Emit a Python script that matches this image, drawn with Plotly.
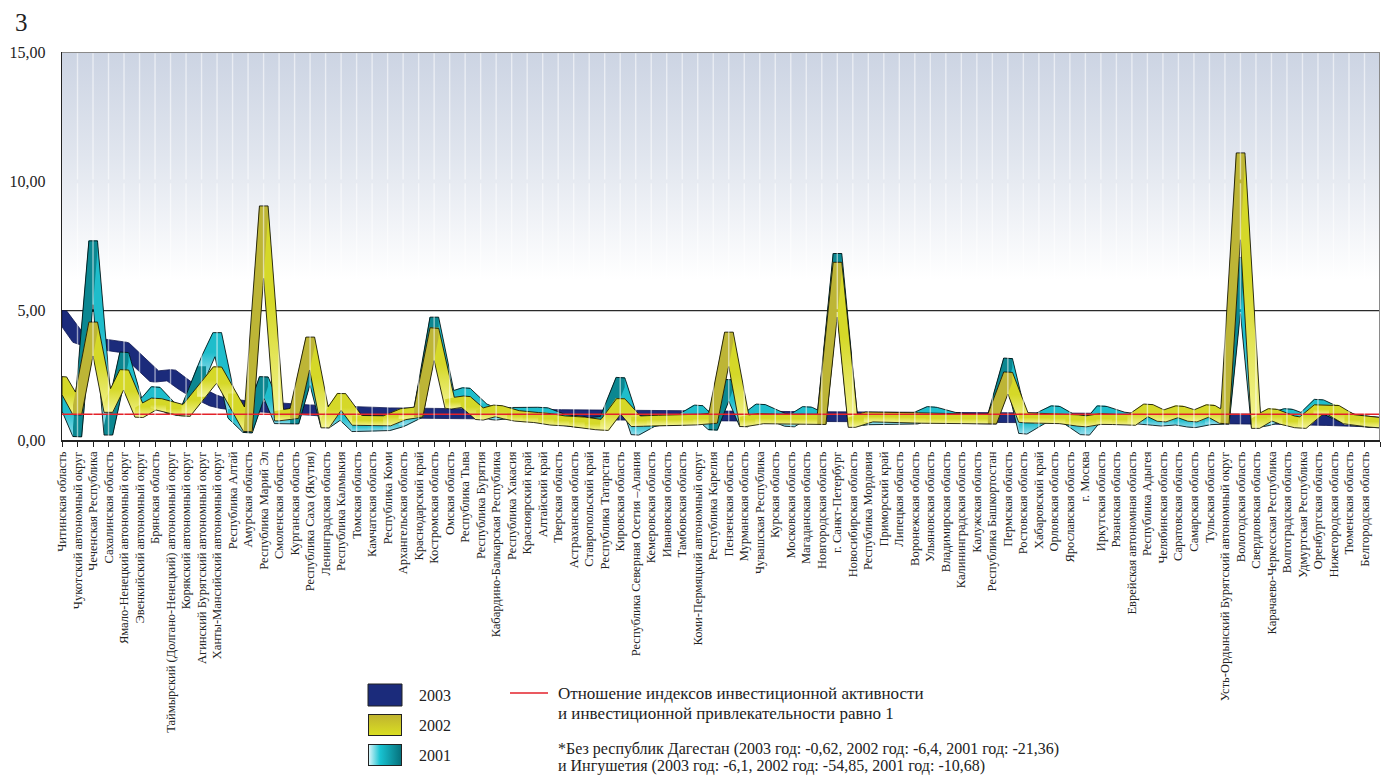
import base64
import numpy as np
import plotly.graph_objects as go

# ---------------- data ----------------
regions = [
    "Читинская область", "Чукотский автономный округ", "Чеченская Республика",
    "Сахалинская область", "Ямало-Ненецкий автономный округ", "Эвенкийский автономный округ",
    "Брянская область", "Таймырский (Долгано-Ненецкий) автономный округ",
    "Корякский автономный округ", "Агинский Бурятский автономный округ",
    "Ханты-Мансийский автономный округ", "Республика Алтай", "Амурская область",
    "Республика Марий Эл", "Смоленская область", "Курганская область",
    "Республика Саха (Якутия)", "Ленинградская область", "Республика Калмыкия",
    "Томская область", "Камчатская область", "Республика Коми", "Архангельская область",
    "Краснодарский край", "Костромская область", "Омская область", "Республика Тыва",
    "Республика Бурятия", "Кабардино-Балкарская Республика", "Республика Хакасия",
    "Красноярский край", "Алтайский край", "Тверская область", "Астраханская область",
    "Ставропольский край", "Республика Татарстан", "Кировская область",
    "Республика Северная Осетия –Алания", "Кемеровская область", "Ивановская область",
    "Тамбовская область", "Коми-Пермяцкий автономный округ", "Республика Карелия",
    "Пензенская область", "Мурманская область", "Чувашская Республика", "Курская область",
    "Московская область", "Магаданская область", "Новгородская область",
    "г. Санкт-Петербург", "Новосибирская область", "Республика Мордовия",
    "Приморский край", "Липецкая область", "Воронежская область", "Ульяновская область",
    "Владимирская область", "Калининградская область", "Калужская область",
    "Республика Башкортостан", "Пермская область", "Ростовская область",
    "Хабаровский край", "Орловская область", "Ярославская область", "г. Москва",
    "Иркутская область", "Рязанская область", "Еврейская автономная область",
    "Республика Адыгея", "Челябинская область", "Саратовская область",
    "Самарская область", "Тульская область", "Усть-Ордынский Бурятский автономный округ",
    "Вологодская область", "Свердловская область", "Карачаево-Черкесская Республика",
    "Волгоградская область", "Удмуртская Республика", "Оренбургская область",
    "Нижегородская область", "Тюменская область", "Белгородская область",
    "Псковская область",
]

v2003 = [
    5.00, 4.15, 3.95, 3.84, 3.77, 3.20, 2.62, 2.72, 2.25, 1.92,
    1.65, 1.55, 1.50, 1.45, 1.41, 1.37, 1.35, 1.31, 1.28, 1.26,
    1.25, 1.24, 1.23, 1.22, 1.22, 1.21, 1.20, 1.20, 1.19, 1.19,
    1.18, 1.18, 1.17, 1.17, 1.16, 1.16, 1.15, 1.15, 1.14, 1.14,
    1.13, 1.13, 1.12, 1.12, 1.11, 1.11, 1.10, 1.10, 1.10, 1.09,
    1.09, 1.09, 1.08, 1.08, 1.08, 1.07, 1.07, 1.07, 1.06, 1.06,
    1.06, 1.05, 1.05, 1.05, 1.04, 1.04, 1.04, 1.03, 1.03, 1.03,
    1.02, 1.02, 1.02, 1.01, 1.01, 1.01, 1.00, 1.00, 0.99, 0.99,
    0.98, 0.96, 0.94, 0.92, 0.90, 0.87,
]

v2002 = [
    2.45, 1.35, 4.56, 1.45, 2.72, 1.25, 1.62, 1.45, 1.30, 2.05,
    2.83, 1.80, 0.70, 9.05, 1.12, 1.22, 3.98, 0.85, 1.80, 0.95,
    0.92, 0.93, 1.20, 1.27, 4.34, 1.58, 1.70, 1.15, 1.35, 1.15,
    1.07, 1.05, 0.93, 0.92, 0.84, 0.75, 1.60, 0.90, 0.95, 0.96,
    0.95, 0.97, 1.03, 4.17, 0.90, 1.02, 1.00, 0.98, 1.00, 0.98,
    6.87, 0.87, 1.08, 1.08, 1.07, 1.05, 1.02, 1.00, 1.00, 1.00,
    1.00, 2.63, 1.05, 1.03, 1.03, 1.00, 0.89, 1.02, 0.98, 0.95,
    1.39, 1.08, 1.32, 1.08, 1.36, 1.00, 11.10, 0.83, 1.21, 0.95,
    0.83, 1.36, 1.36, 0.98, 0.92, 0.85,
]

v2001 = [
    1.90, 0.50, 7.70, 0.57, 3.40, 1.30, 2.06, 1.40, 1.30, 2.85,
    4.15, 1.20, 0.65, 2.45, 1.00, 1.00, 3.15, 0.85, 1.30, 0.70,
    0.72, 0.75, 0.95, 1.27, 4.75, 1.78, 2.02, 1.42, 1.15, 1.25,
    1.27, 1.26, 1.00, 0.90, 0.85, 0.90, 2.42, 0.57, 0.93, 0.97,
    0.97, 1.35, 0.76, 2.34, 0.89, 1.39, 1.10, 0.89, 1.29, 1.00,
    7.21, 0.90, 1.00, 1.00, 1.00, 1.00, 1.29, 1.10, 1.00, 1.00,
    1.00, 3.17, 0.61, 1.00, 1.32, 1.00, 0.57, 1.32, 1.10, 1.00,
    1.00, 0.92, 1.00, 0.86, 1.00, 1.00, 7.06, 0.86, 1.00, 1.21,
    0.95, 1.57, 1.30, 1.00, 0.90, 0.85,
]

ratio_level = 1.0
y_tickvals = [0, 5, 10, 15]
y_ticktext = ["0,00", "5,00", "10,00", "15,00"]
series_names = ["2003", "2002", "2001"]
legend_line_text = ["Отношение индексов инвестиционной активности",
                    "и инвестиционной привлекательности равно 1"]
footnote_text = ["*Без республик Дагестан (2003 год: -0,62, 2002 год: -6,4, 2001 год: -21,36)",
                 "и Ингушетия (2003 год: -6,1, 2002 год: -54,85, 2001 год: -10,68)"]
chart_number = "3"

# ---------------- styling ----------------
FONT = "Liberation Serif"
W, H = 1386, 775
ML, MR, MT, MB = 62, 6, 52, 335
HALF_W = 0.29     # ribbon depth, in category units
DEPTH_H = 0.38    # ribbon thickness, in value units

NAVY = "#1b2b7b"
YEL = dict(main="#d5d828", dark="#bdb536", light="#f4f492")
CYA = dict(main="#1fbdcb", dark="#0b8791", light="#93dcec")

n = len(regions)
xs = np.arange(n, dtype=float)


def hull(points):
    pts = sorted(set(points))
    if len(pts) <= 2:
        return pts

    def cross(o, a, b):
        return (a[0] - o[0]) * (b[1] - o[1]) - (a[1] - o[1]) * (b[0] - o[0])

    lower, upper = [], []
    for p in pts:
        while len(lower) >= 2 and cross(lower[-2], lower[-1], p) <= 0:
            lower.pop()
        lower.append(p)
    for p in reversed(pts):
        while len(upper) >= 2 and cross(upper[-2], upper[-1], p) <= 0:
            upper.pop()
        upper.append(p)
    return lower[:-1] + upper[:-1]


def seg_poly(x0, y0, x1, y1):
    pts = [(float(x + dx), float(y + dy)) for (x, y) in ((x0, y0), (x1, y1))
           for dx in (-HALF_W, HALF_W) for dy in (0.0, -DEPTH_H)]
    hp = hull(pts)
    return [p[0] for p in hp] + [hp[0][0]], [p[1] for p in hp] + [hp[0][1]]


def envelope(vals):
    v = np.asarray(vals, dtype=float)
    grid = np.unique(np.concatenate([
        np.linspace(0, n - 1, (n - 1) * 30 + 1),
        np.clip(xs - HALF_W, 0, n - 1), np.clip(xs + HALF_W, 0, n - 1)]))
    top, bot = [], []
    for x in grid:
        lo, hi = x - HALF_W, x + HALF_W
        c = [np.interp(lo, xs, v), np.interp(hi, xs, v)]
        c.extend(v[(xs >= lo) & (xs <= hi)].tolist())
        top.append(max(c))
        bot.append(min(c) - DEPTH_H)
    ex = np.concatenate([grid, grid[::-1], grid[:1]])
    ey = np.concatenate([top, bot[::-1], top[:1]])
    return ex, ey


fig = go.Figure()


def add_ribbon(vals, pal=None, solid=None, outline="black"):
    ex, ey = envelope(vals)
    fig.add_trace(go.Scatter(x=ex, y=ey, mode="lines", fill="toself",
                             fillcolor=solid if solid else pal["main"],
                             line=dict(width=0), hoverinfo="skip", showlegend=False))
    if pal is not None:
        rx, ry = [], []
        for i in range(n - 1):
            px, py = seg_poly(xs[i], vals[i], xs[i + 1], vals[i + 1])
            if vals[i + 1] - vals[i] > 1.5:
                rx += px + [None]
                ry += py + [None]
            else:
                fig.add_trace(go.Scatter(
                    x=px, y=py, mode="lines", fill="toself", line=dict(width=0),
                    fillgradient=dict(type="vertical",
                                      colorscale=[[0, pal["light"]], [0.55, pal["main"]], [1, pal["main"]]]),
                    hoverinfo="skip", showlegend=False))
        if rx:
            fig.add_trace(go.Scatter(x=rx, y=ry, mode="lines", fill="toself",
                                     fillcolor=pal["dark"], line=dict(width=0),
                                     hoverinfo="skip", showlegend=False))
    fig.add_trace(go.Scatter(x=ex, y=ey, mode="lines",
                             line=dict(color=outline, width=0.8),
                             hoverinfo="skip", showlegend=False))


add_ribbon(v2003, solid=NAVY, outline="#0f1852")
add_ribbon(v2001, pal=CYA)
add_ribbon(v2002, pal=YEL)

fig.add_trace(go.Scatter(x=[xs[0], xs[-1]], y=[ratio_level, ratio_level], mode="lines",
                         line=dict(color="#e3222b", width=1.5),
                         hoverinfo="skip", showlegend=False))


def svg_uri(svg):
    return "data:image/svg+xml;base64," + base64.b64encode(svg.encode("utf-8")).decode("ascii")


bg_svg = ("<svg xmlns='http://www.w3.org/2000/svg' width='10' height='100' viewBox='0 0 10 100' "
          "preserveAspectRatio='none'><defs><linearGradient id='g' x1='0' y1='0' x2='0' y2='1'>"
          "<stop offset='0' stop-color='#ccd4e3'/><stop offset='0.45' stop-color='#e0e5ee'/>"
          "<stop offset='1' stop-color='#ffffff'/></linearGradient></defs>"
          "<rect width='10' height='100' fill='url(#g)'/></svg>")

sw2002 = ("<svg xmlns='http://www.w3.org/2000/svg' width='34' height='22' viewBox='0 0 34 22' "
          "preserveAspectRatio='none'><defs><linearGradient id='g' x1='0' y1='0' x2='0' y2='1'>"
          "<stop offset='0' stop-color='#bfb32f'/><stop offset='1' stop-color='#dadf22'/>"
          "</linearGradient></defs><rect x='0.5' y='0.5' width='33' height='21' fill='url(#g)' "
          "stroke='#222' stroke-width='1'/></svg>")
sw2001 = ("<svg xmlns='http://www.w3.org/2000/svg' width='34' height='22' viewBox='0 0 34 22' "
          "preserveAspectRatio='none'><defs><linearGradient id='g' x1='0' y1='0' x2='1' y2='0'>"
          "<stop offset='0' stop-color='#dff6fb'/><stop offset='0.35' stop-color='#18c3d1'/>"
          "<stop offset='1' stop-color='#06707b'/></linearGradient></defs>"
          "<rect x='0.5' y='0.5' width='33' height='21' fill='url(#g)' stroke='#222' "
          "stroke-width='1'/></svg>")

PW = W - ML - MR
PH = H - MT - MB


def pxx(px):
    return (px - ML) / PW


def pyy(py):
    return (H - MB - py) / PH


images = [
    dict(source=svg_uri(bg_svg), xref="x", yref="y", x=xs[0], y=y_tickvals[-1],
         sizex=xs[-1] - xs[0], sizey=y_tickvals[-1] - 6.2, sizing="stretch",
         xanchor="left", yanchor="top", layer="below"),
    dict(source=svg_uri(sw2002), xref="paper", yref="paper", x=pxx(368), y=pyy(714),
         sizex=34 / PW, sizey=22 / PH, sizing="stretch", xanchor="left", yanchor="top",
         layer="above"),
    dict(source=svg_uri(sw2001), xref="paper", yref="paper", x=pxx(368), y=pyy(744),
         sizex=34 / PW, sizey=22 / PH, sizing="stretch", xanchor="left", yanchor="top",
         layer="above"),
]

shapes = []
# white vertical category lines (drawn over the ribbons, gaps at the reference lines)
seg_bounds = [(0.03, 4.95), (5.05, 9.93), (10.07, 14.95)]
wpath = " ".join(f"M{xv},{a} L{xv},{b}" for xv in xs[1:-1] for (a, b) in seg_bounds)
shapes.append(dict(type="path", xref="x", yref="y", path=wpath,
                   line=dict(color="rgba(255,255,255,0.55)", width=1.4), layer="above"))
# horizontal reference lines
shapes.append(dict(type="line", xref="x", yref="y", x0=xs[0], x1=xs[-1], y0=5, y1=5,
                   line=dict(color="#2a2a2a", width=1.2), layer="below"))
shapes.append(dict(type="line", xref="x", yref="y", x0=xs[0], x1=xs[-1], y0=10, y1=10,
                   line=dict(color="#6f6f6f", width=2), layer="below"))
shapes.append(dict(type="line", xref="x", yref="y", x0=xs[0], x1=xs[-1], y0=15, y1=15,
                   line=dict(color="#8a8a8a", width=2), layer="above"))
shapes.append(dict(type="line", xref="x", yref="y", x0=xs[-1], x1=xs[-1], y0=0, y1=15,
                   line=dict(color="#8a8a8a", width=2), layer="above"))
# legend: 2003 swatch and red line
shapes.append(dict(type="rect", xref="paper", yref="paper", x0=pxx(368), x1=pxx(402),
                   y0=pyy(706), y1=pyy(684), fillcolor=NAVY, line=dict(color="#222", width=1)))
shapes.append(dict(type="line", xref="paper", yref="paper", x0=pxx(510), x1=pxx(548),
                   y0=pyy(693), y1=pyy(693), line=dict(color="#e3222b", width=1.5)))

ann = []
ann.append(dict(text=chart_number, xref="paper", yref="paper", x=pxx(13), y=pyy(22),
                xanchor="left", yanchor="middle", showarrow=False,
                font=dict(family=FONT, size=25, color="#222")))
for name, py in zip(series_names, [695, 725, 755]):
    ann.append(dict(text=name, xref="paper", yref="paper", x=pxx(417), y=pyy(py),
                    xanchor="left", yanchor="middle", showarrow=False,
                    font=dict(family=FONT, size=16, color="#222")))
for t, py in zip(legend_line_text, [693, 713]):
    ann.append(dict(text=t, xref="paper", yref="paper", x=pxx(556), y=pyy(py),
                    xanchor="left", yanchor="middle", showarrow=False,
                    font=dict(family=FONT, size=17, color="#222")))
for t, py in zip(footnote_text, [749, 766]):
    ann.append(dict(text=t, xref="paper", yref="paper", x=pxx(556), y=pyy(py),
                    xanchor="left", yanchor="middle", showarrow=False,
                    font=dict(family=FONT, size=16, color="#222")))

fig.update_layout(
    width=W, height=H,
    margin=dict(l=ML, r=MR, t=MT, b=MB, autoexpand=False),
    paper_bgcolor="white", plot_bgcolor="white",
    showlegend=False,
    images=images, shapes=shapes, annotations=ann,
    xaxis=dict(range=[xs[0], xs[-1]], tickvals=xs, ticktext=regions, tickangle=-90,
               ticks="outside", ticklen=5, tickcolor="#222", tickwidth=1,
               showline=True, linecolor="#222", linewidth=1.5, showgrid=False,
               zeroline=False, automargin=False,
               tickfont=dict(family=FONT, size=12.5, color="#222")),
    yaxis=dict(range=[0, 15], tickvals=y_tickvals, ticktext=y_ticktext,
               ticks="", showline=True, linecolor="#222", linewidth=1.2,
               showgrid=False, zeroline=False, automargin=False,
               ticklabelstandoff=12,
               tickfont=dict(family=FONT, size=16, color="#222")),
)

fig.write_html("out.html", config={"displayModeBar": False, "staticPlot": True},
               post_script="document.body.style.margin='0';document.body.style.overflow='hidden';")
